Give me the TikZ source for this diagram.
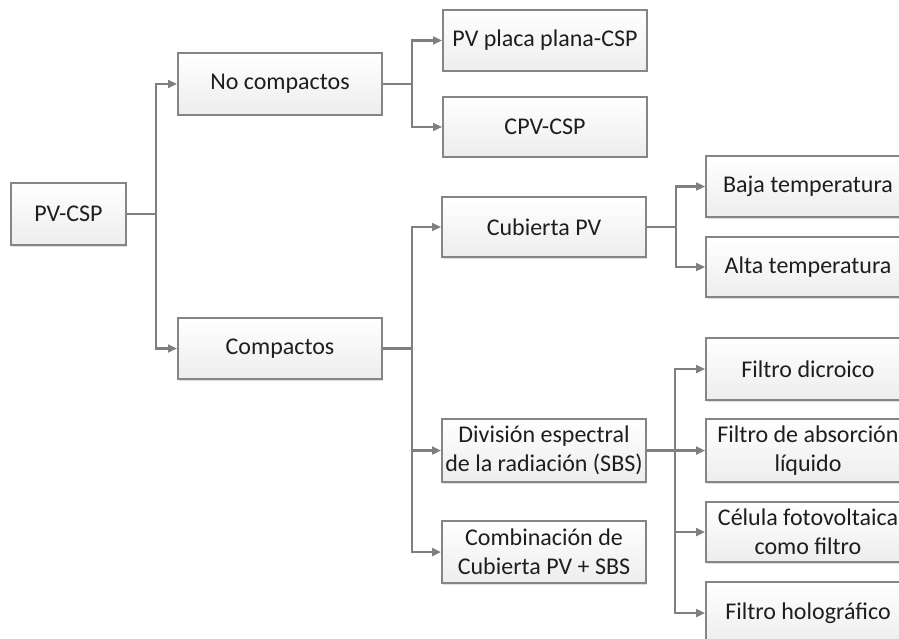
\documentclass[tikz,border=0pt]{standalone}
\usepackage{fontspec}
\setmainfont{Carlito}
\usetikzlibrary{arrows.meta,shadows}
\definecolor{edgegray}{HTML}{858585}
\definecolor{linegray}{HTML}{7F7F7F}
\definecolor{inkdark}{HTML}{1E1E1E}
\tikzset{
  box/.style={draw=edgegray, line width=2pt, top color=white, bottom color=black!7,
    minimum width=204pt, minimum height=62pt, inner sep=2pt, align=center,
    text=inkdark, font=\fontsize{24}{29}\selectfont,
    drop shadow={shadow xshift=1pt, shadow yshift=-1.5pt, opacity=0.25}},
  conn/.style={draw=linegray, line width=2.4pt,
    -{Triangle[length=9pt,width=8pt]}},
}
\begin{document}
\begin{tikzpicture}[x=1pt,y=-1pt]
  \useasboundingbox (0,0) rectangle (899,639);
  \clip (0,0) rectangle (899,639);

  % first level
  \node[box, minimum width=115pt] (pv) at (68.5,214) {PV-CSP};

  % second level
  \node[box] (nc) at (280,84) {No compactos};
  \node[box, minimum height=61pt] (co) at (280,348.5) {Compactos};

  % third level
  \node[box, minimum height=61pt] (ppl) at (545,40.5) {PV placa plana-CSP};
  \node[box, minimum height=60pt] (cpv) at (545,127) {CPV-CSP};
  \node[box, minimum height=60pt] (cub) at (544,227) {Cubierta PV};
  \node[box, minimum height=63pt] (div) at (544,450.5) {División espectral\\de la radiación (SBS)};
  \node[box] (comb) at (544,552) {Combinación de\\Cubierta PV + SBS};

  % fourth level (running off the right edge)
  \node[box, minimum height=61pt] (baja) at (808,186.5) {Baja temperatura};
  \node[box, minimum height=60pt] (alta) at (808,267) {Alta temperatura};
  \node[box] (dic) at (808,369) {Filtro dicroico};
  \node[box, minimum height=63pt] (abs) at (808,450.5) {Filtro de absorción\\líquido};
  \node[box, minimum height=60pt] (cel) at (808,532) {Célula fotovoltaica\\como filtro};
  \node[box] (hol) at (808,613) {Filtro holográfico};

  % connectors
  \draw[conn] (pv.east) -- ++(29,0) |- (nc.west);
  \draw[conn] (pv.east) -- ++(29,0) |- (co.west);

  \draw[conn] (nc.east) -- ++(29,0) |- (ppl.west);
  \draw[conn] (nc.east) -- ++(29,0) |- (cpv.west);

  \draw[conn] (co.east) -- ++(29,0) |- (cub.west);
  \draw[conn] (co.east) -- ++(29,0) |- (div.west);
  \draw[conn] (co.east) -- ++(29,0) |- (comb.west);

  \draw[conn] (cub.east) -- ++(29,0) |- (baja.west);
  \draw[conn] (cub.east) -- ++(29,0) |- (alta.west);

  \draw[conn] (div.east) -- ++(28,0) |- (dic.west);
  \draw[conn] (div.east) -- (abs.west);
  \draw[conn] (div.east) -- ++(28,0) |- (cel.west);
  \draw[conn] (div.east) -- ++(28,0) |- (hol.west);
\end{tikzpicture}
\end{document}
